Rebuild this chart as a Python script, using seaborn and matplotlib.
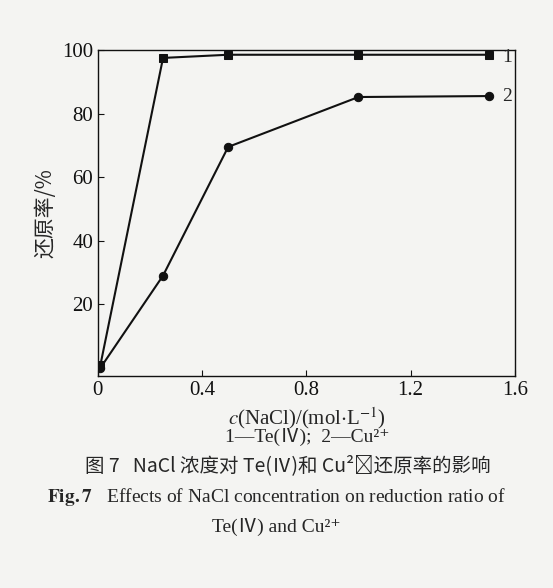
import matplotlib
matplotlib.use("Agg")
import matplotlib.pyplot as plt
import seaborn as sns
import pandas as pd

x_nacl = [0.01, 0.25, 0.5, 1.0, 1.5]
te_ratio = [1.0, 97.5, 98.5, 98.5, 98.5]
cu_ratio = [0.0, 29.0, 69.5, 85.2, 85.5]

sns.set_style("ticks")
FAM = ['Liberation Serif', 'Noto Sans CJK SC', 'DejaVu Sans']
plt.rcParams['font.family'] = FAM
plt.rcParams['mathtext.fontset'] = 'stix'

fig = plt.figure(figsize=(5.53, 5.88), dpi=100, facecolor='#f4f4f2')
ax = fig.add_axes([0.177, 0.361, 0.754, 0.554])
ax.set_facecolor('#f4f4f2')
df1 = pd.DataFrame({'x': x_nacl, 'y': te_ratio})
df2 = pd.DataFrame({'x': x_nacl, 'y': cu_ratio})
sns.lineplot(data=df1, x='x', y='y', ax=ax, color='#111', marker='s', markersize=6, lw=1.5, markeredgecolor='#111')
sns.lineplot(data=df2, x='x', y='y', ax=ax, color='#111', marker='o', markersize=6, lw=1.5, markeredgecolor='#111')
ax.set_xlim(0, 1.6)
ax.set_ylim(-2.5, 100)
ax.set_xticks([0, 0.4, 0.8, 1.2, 1.6])
ax.set_xticklabels(['0', '0.4', '0.8', '1.2', '1.6'])
ax.set_yticks([20, 40, 60, 80, 100])
ax.tick_params(direction='in', labelsize=15, length=4, colors='#111')
for s in ax.spines.values():
    s.set_color('#111'); s.set_linewidth(1.0)
ax.set_xlabel(''); ax.set_ylabel('还原率/%', fontsize=15, family=['Noto Sans CJK SC', 'Liberation Serif'])
ax.text(1.55, 97.5, '1', fontsize=14, va='center')
ax.text(1.55, 85.5, '2', fontsize=14, va='center')

fs = 14
fig.text(0.555, 0.289, r'$c$(NaCl)/(mol$\cdot$L$^{-1}$)', ha='center', va='center', fontsize=15)
fig.text(0.555, 0.257, '1—Te(Ⅳ);  2—Cu²⁺', ha='center', va='center', fontsize=fs, family=FAM)
fig.text(0.52, 0.208, '图 7   NaCl 浓度对 Te(Ⅳ)和 Cu²⁺还原率的影响', ha='center', va='center', fontsize=fs, family=['Noto Sans CJK SC', 'Liberation Serif'])
fig.text(0.5, 0.155, r'$\mathbf{Fig.7}$   Effects of NaCl concentration on reduction ratio of', ha='center', va='center', fontsize=fs)
fig.text(0.5, 0.104, 'Te(Ⅳ) and Cu²⁺', ha='center', va='center', fontsize=fs, family=FAM)
fig.savefig('out.png', dpi=100, facecolor=fig.get_facecolor())
